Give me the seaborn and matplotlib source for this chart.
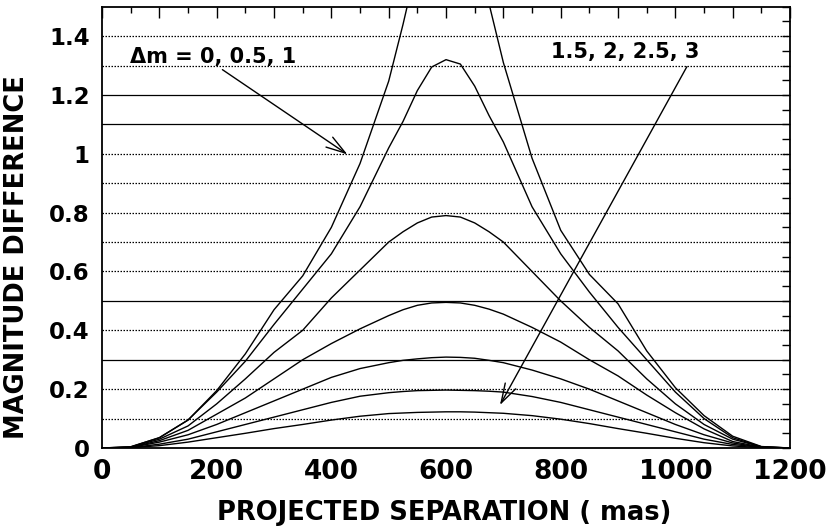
import matplotlib
matplotlib.use("Agg")
import matplotlib.pyplot as plt
import matplotlib.ticker as mtick
import seaborn as sns
import pandas as pd

# projected separation (mas) where the curves were read
SEP = [0, 50, 100, 150, 200, 250, 300, 350, 400, 450, 500, 525, 550, 575, 600,
       625, 650, 675, 700, 750, 800, 850, 900, 950, 1000, 1050, 1100, 1150, 1200]

# magnitude difference for each delta-m curve (dm=0 runs off the top)
DM_0 = [0, 0.004, 0.035, 0.095, 0.195, 0.32, 0.47, 0.585, 0.75, 0.967, 1.247, 1.44, 1.65, 1.95, 2.3,
        2.0, 1.73, 1.51, 1.31, 0.985, 0.74, 0.59, 0.49, 0.33, 0.205, 0.11, 0.04, 0.005, 0]
DM_05 = [0, 0.004, 0.035, 0.095, 0.19, 0.295, 0.42, 0.54, 0.66, 0.82, 1.02, 1.11, 1.215, 1.295, 1.32,
         1.305, 1.23, 1.13, 1.04, 0.82, 0.66, 0.53, 0.41, 0.30, 0.19, 0.10, 0.035, 0.004, 0]
DM_1 = [0, 0.003, 0.03, 0.075, 0.15, 0.235, 0.325, 0.40, 0.51, 0.605, 0.70, 0.735, 0.765, 0.785, 0.79,
        0.785, 0.765, 0.735, 0.70, 0.60, 0.50, 0.41, 0.33, 0.235, 0.15, 0.08, 0.03, 0.004, 0]
DM_15 = [0, 0.002, 0.025, 0.06, 0.115, 0.17, 0.235, 0.30, 0.355, 0.405, 0.45, 0.47, 0.485, 0.493, 0.495,
         0.493, 0.485, 0.472, 0.455, 0.41, 0.36, 0.30, 0.245, 0.18, 0.12, 0.065, 0.022, 0.003, 0]
DM_2 = [0, 0.002, 0.02, 0.045, 0.08, 0.12, 0.16, 0.20, 0.24, 0.27, 0.29, 0.298, 0.303, 0.307, 0.309,
        0.308, 0.305, 0.298, 0.29, 0.265, 0.235, 0.20, 0.16, 0.12, 0.08, 0.045, 0.017, 0.002, 0]
DM_25 = [0, 0.001, 0.013, 0.03, 0.055, 0.08, 0.105, 0.13, 0.155, 0.176, 0.188, 0.192, 0.195, 0.196, 0.197,
         0.196, 0.195, 0.193, 0.19, 0.175, 0.155, 0.13, 0.105, 0.08, 0.055, 0.03, 0.012, 0.002, 0]
DM_3 = [0, 0.001, 0.008, 0.02, 0.035, 0.05, 0.066, 0.08, 0.095, 0.108, 0.117, 0.119, 0.121, 0.122, 0.123,
        0.123, 0.122, 0.12, 0.118, 0.11, 0.098, 0.083, 0.066, 0.05, 0.033, 0.018, 0.007, 0.001, 0]

DELTA_M = ["0", "0.5", "1", "1.5", "2", "2.5", "3"]
CURVES = [DM_0, DM_05, DM_1, DM_15, DM_2, DM_25, DM_3]

GRID_SOLID = [0.3, 0.5, 1.1, 1.2]
GRID_DOTTED = [0.1, 0.2, 0.4, 0.6, 0.7, 0.8, 0.9, 1.0, 1.3, 1.4]

sns.set_theme(style="white")
plt.rcParams.update({
    "font.family": ["DejaVu Sans"],
    "font.weight": "bold",
    "text.color": "black",
    "axes.labelcolor": "black",
    "xtick.color": "black",
    "ytick.color": "black",
})

df = pd.concat(
    [pd.DataFrame({"sep": SEP, "mag": vals, "dm": dm}) for dm, vals in zip(DELTA_M, CURVES)],
    ignore_index=True,
)

fig = plt.figure(figsize=(8.32, 5.31), dpi=100)
ax = fig.add_axes([0.1226, 0.1563, 0.8270, 0.8311])

for y in GRID_DOTTED:
    ax.axhline(y, color="black", lw=0.9, ls=(0, (1.2, 1.2)), zorder=1)
for y in GRID_SOLID:
    ax.axhline(y, color="black", lw=0.9, zorder=1)

sns.lineplot(data=df, x="sep", y="mag", hue="dm", palette=["black"] * len(DELTA_M),
             legend=False, estimator=None, sort=False, lw=1.0, ax=ax, zorder=2)

ax.set_xlim(0, 1200)
ax.set_ylim(0, 1.5)

ax.xaxis.set_major_locator(mtick.MultipleLocator(100))
ax.xaxis.set_minor_locator(mtick.MultipleLocator(50))
ax.xaxis.set_major_formatter(mtick.FuncFormatter(lambda v, _: f"{v:.0f}" if round(v) % 200 == 0 else ""))
ax.yaxis.set_major_locator(mtick.MultipleLocator(0.2))
ax.yaxis.set_minor_locator(mtick.MultipleLocator(0.05))
ax.yaxis.set_major_formatter(mtick.FuncFormatter(lambda v, _: f"{v:.0f}" if abs(v - round(v)) < 1e-6 else f"{v:.1f}"))

ax.tick_params(which="both", direction="in", top=True, right=True, width=1)
ax.tick_params(axis="x", which="major", length=8, labelsize=19, pad=8)
ax.tick_params(axis="x", which="minor", length=4)
ax.tick_params(axis="y", which="both", length=6)
ax.tick_params(axis="y", which="major", labelsize=16.5, pad=9)

for s in ax.spines.values():
    s.set_color("black")
    s.set_linewidth(1.3)

ax.set_xlabel("PROJECTED SEPARATION ( mas)", fontsize=18.5, fontweight="bold")
ax.xaxis.set_label_coords(0.497, -0.118)
ax.set_ylabel("MAGNITUDE DIFFERENCE", fontsize=18.5, fontweight="bold")
ax.yaxis.set_label_coords(-0.104, 0.433)

arrow = dict(arrowstyle="->,head_length=1.4,head_width=0.43", color="black", lw=1.0,
             shrinkA=0, shrinkB=0, mutation_scale=10)
ax.text(49, 1.33, "Δm = 0, 0.5, 1", fontsize=15, fontweight="bold", ha="left", va="center")
ax.annotate("", xy=(428, 0.998), xytext=(210, 1.286), arrowprops=arrow)
ax.text(1042, 1.347, "1.5, 2, 2.5, 3", fontsize=15, fontweight="bold", ha="right", va="center")
ax.annotate("", xy=(694, 0.146), xytext=(1020, 1.296), arrowprops=arrow)

fig.savefig("out.png", dpi=100)
